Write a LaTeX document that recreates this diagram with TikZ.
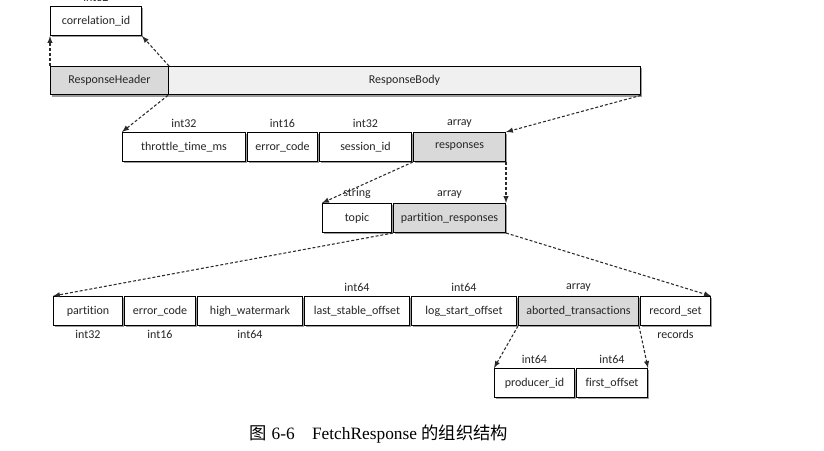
\documentclass[tikz,border=0pt]{standalone}
\usepackage{fontspec}
\setmainfont{Liberation Serif}
\newfontfamily\boxfont[Ligatures=NoCommon]{Carlito}
\newfontfamily\cjk{Noto Sans CJK SC}
\usetikzlibrary{positioning,shadows}
\definecolor{fieldgray}{HTML}{D9D9D9}
\definecolor{bodygray}{HTML}{F0F0F0}
\definecolor{linegray}{HTML}{2A2A2A}
\begin{document}
\begin{tikzpicture}[x=0.75pt, y=-0.75pt, >=latex,
    fld/.style={draw=black, line width=0.75pt, fill=white, minimum height=21.75pt, inner sep=0pt,
        font=\boxfont\fontsize{9}{10}\selectfont, text=black!85,
        drop shadow={shadow xshift=1.3pt, shadow yshift=-1.3pt, fill=black!55, opacity=0.7}},
    tl/.style={inner sep=1pt, font=\boxfont\fontsize{9}{10}\selectfont, text=black!85},
    arr/.style={->, draw=linegray, line width=0.8pt, dash pattern=on 2.2pt off 1.5pt}]
    \useasboundingbox (0,0) rectangle (824,450);

    % 第一层
    \node[fld, minimum width=68.25pt, anchor=north west] (corrid) at (50,6) {correlation\_id};
    \node[tl, above=2pt of corrid] (corridT) {int32};
    \node[fld, fill=fieldgray, minimum width=88.5pt, minimum height=21.25pt, anchor=north west] (rhead) at (50,66) {ResponseHeader};
    \node[fld, fill=bodygray, minimum width=354pt, minimum height=21.25pt, right=-0.75pt of rhead] (rbody) {ResponseBody};

    % 第二层
    \node[fld, minimum width=92.25pt, anchor=north west] (throttle) at (122,132) {throttle\_time\_ms};
    \node[fld, minimum width=52.5pt, right=0.75pt of throttle] (errcode) {error\_code};
    \node[fld, minimum width=69pt, right=0.75pt of errcode] (session) {session\_id};
    \node[fld, fill=fieldgray, minimum width=69pt, right=0.75pt of session] (resp) {responses};
    \node[tl, above=2pt of throttle] (throttleT) {int32};
    \node[tl, above=2pt of errcode] (errcodeT) {int16};
    \node[tl, above=2pt of session] (sessionT) {int32};
    \node[tl, above=2pt of resp] (respT) {array};

    % 第三层
    \node[fld, minimum width=51.75pt, anchor=north west] (topic) at (322,203) {topic};
    \node[fld, fill=fieldgray, minimum width=84pt, right=0.75pt of topic] (presp) {partition\_responses};
    \node[tl, above=2pt of topic] (topicT) {string};
    \node[tl, above=2pt of presp] (prespT) {array};

    % 第四层
    \node[fld, minimum width=51.75pt, anchor=north west] (partition) at (53,296) {partition};
    \node[fld, minimum width=53.25pt, right=0.75pt of partition] (errcodeB) {error\_code};
    \node[fld, minimum width=78.75pt, right=0.75pt of errcodeB] (hwm) {high\_watermark};
    \node[fld, minimum width=78.75pt, right=0.75pt of hwm] (lso) {last\_stable\_offset};
    \node[fld, minimum width=78.75pt, right=0.75pt of lso] (logso) {log\_start\_offset};
    \node[fld, fill=fieldgray, minimum width=90pt, right=0.75pt of logso] (aborted) {aborted\_transactions};
    \node[fld, minimum width=52.5pt, right=0.75pt of aborted] (recset) {record\_set};
    \node[tl, below=2pt of partition] (partitionT) {int32};
    \node[tl, below=2pt of errcodeB] (errcodeBT) {int16};
    \node[tl, below=2pt of hwm] (hwmT) {int64};
    \node[tl, above=2pt of lso] (lsoT) {int64};
    \node[tl, above=2pt of logso] (logsoT) {int64};
    \node[tl, above=2pt of aborted] (abortedT) {array};
    \node[tl, below=2pt of recset] (recsetT) {records};

    % 第五层
    \node[fld, minimum width=60pt, anchor=north west] (producer) at (494,368) {producer\_id};
    \node[fld, minimum width=53.25pt, right=0.75pt of producer] (firstoff) {first\_offset};
    \node[tl, above=2pt of producer] (producerT) {int64};
    \node[tl, above=2pt of firstoff] (firstoffT) {int64};

    % 展开关系
    \draw[arr] (rhead.north west) -- (corrid.south west);
    \draw[arr] (rhead.north east) -- (corrid.south east);
    \draw[arr] (rbody.south west) -- (throttle.north west);
    \draw[arr] (rbody.south east) -- (resp.north east);
    \draw[arr] (resp.south west) -- (topic.north west);
    \draw[arr] (resp.south east) -- (presp.north east);
    \draw[arr] (presp.south west) -- (partition.north west);
    \draw[arr] (presp.south east) -- (recset.north east);
    \draw[arr] (aborted.south west) -- (producer.north west);
    \draw[arr] (aborted.south east) -- (firstoff.north east);

    % 图题
    \node[font=\fontsize{13}{15}\selectfont] (caption) at (379,434) {{\cjk 图} 6-6\quad FetchResponse {\cjk 的组织结构}};
\end{tikzpicture}
\end{document}
